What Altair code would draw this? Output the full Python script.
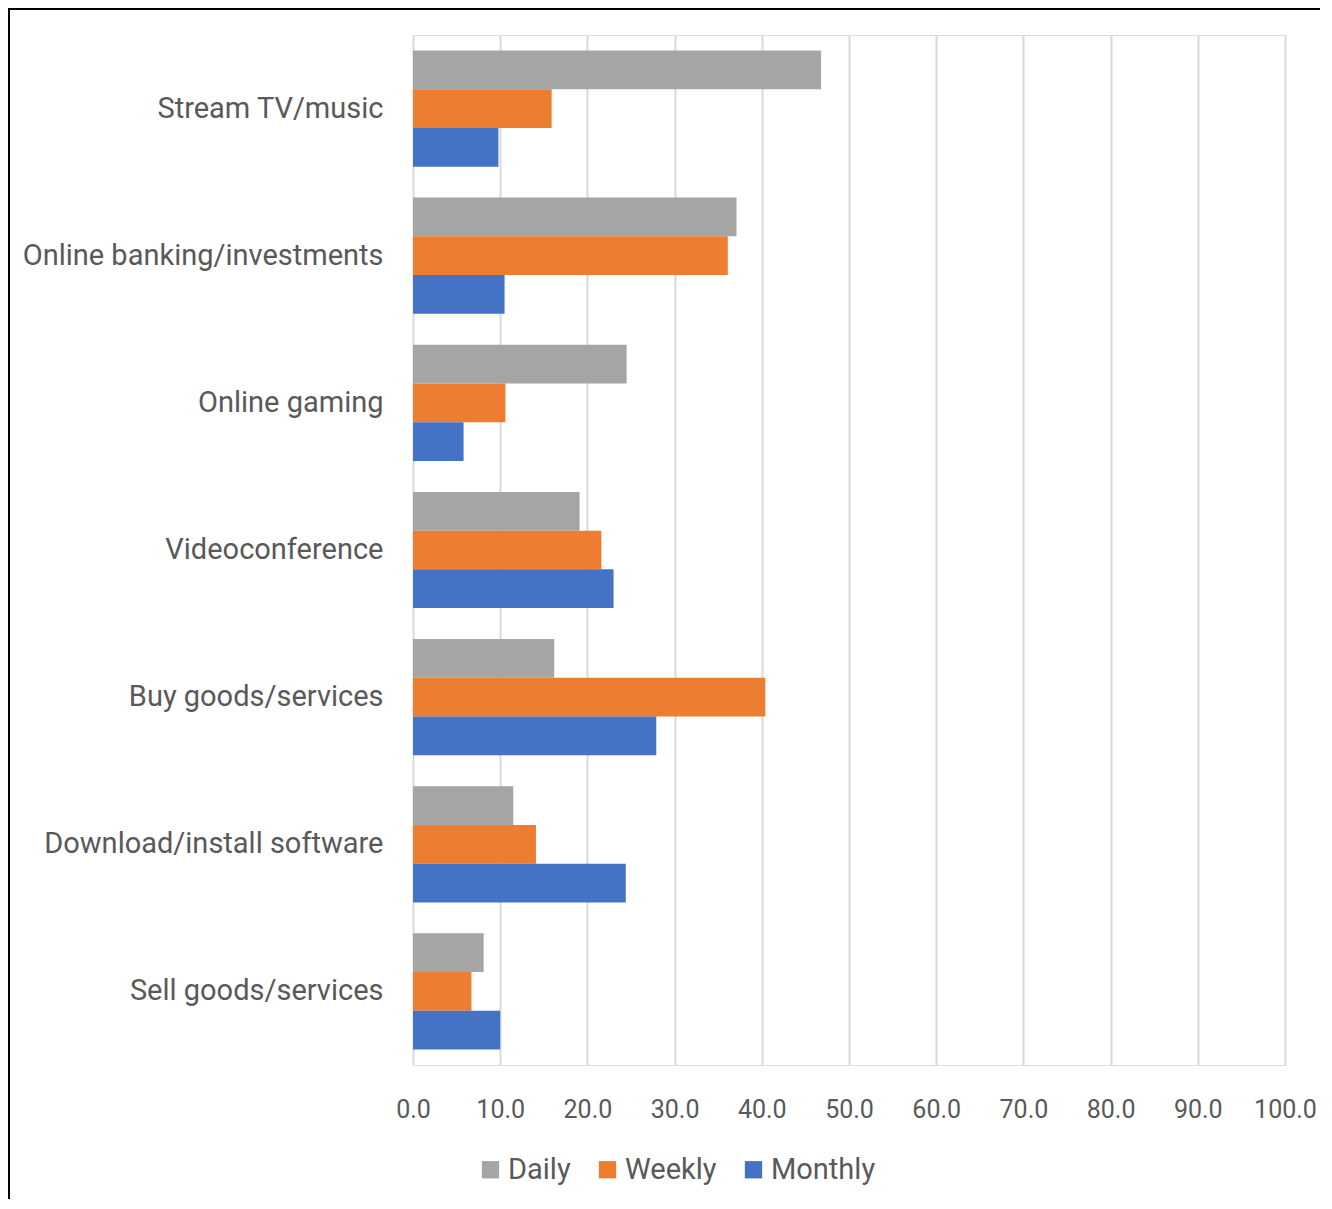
import altair as alt
import pandas as pd

categories = [
    "Stream TV/music",
    "Online banking/investments",
    "Online gaming",
    "Videoconference",
    "Buy goods/services",
    "Download/install software",
    "Sell goods/services",
]
daily = [46.8, 37.1, 24.5, 19.1, 16.2, 11.5, 8.1]
weekly = [15.9, 36.1, 10.6, 21.6, 40.4, 14.1, 6.7]
monthly = [9.8, 10.5, 5.8, 23.0, 27.9, 24.4, 10.0]
series = ["Daily", "Weekly", "Monthly"]
colors = ["#A5A5A5", "#ED7D31", "#4472C4"]
x_ticks = [0, 10, 20, 30, 40, 50, 60, 70, 80, 90, 100]

rows = []
for s, vals in zip(series, [daily, weekly, monthly]):
    for c, v in zip(categories, vals):
        rows.append({"category": c, "series": s, "value": v})
df = pd.DataFrame(rows)

FONT = "Roboto"
TEXT = "#595959"

bars = alt.Chart(df).mark_bar().encode(
    x=alt.X(
        "value:Q",
        scale=alt.Scale(domain=[0, 100], nice=False, zero=True),
        axis=alt.Axis(
            values=x_ticks,
            format=".1f",
            title=None,
            grid=True,
            gridColor="#D9D9D9",
            gridWidth=2,
            domain=False,
            ticks=False,
            labelFlush=False,
            labelOverlap=False,
            labelFontSize=25,
            labelColor=TEXT,
            labelPadding=32,
            labelFont=FONT,
        ),
    ),
    y=alt.Y(
        "category:N",
        sort=categories,
        scale=alt.Scale(paddingInner=0.21, paddingOuter=0.105),
        axis=alt.Axis(
            title=None,
            domain=False,
            ticks=False,
            grid=False,
            labelFontSize=29,
            labelColor=TEXT,
            labelPadding=30,
            labelLimit=600,
            labelFont=FONT,
        ),
    ),
    yOffset=alt.YOffset(
        "series:N",
        sort=series,
        scale=alt.Scale(paddingInner=0, paddingOuter=0),
    ),
    color=alt.Color(
        "series:N",
        sort=series,
        scale=alt.Scale(domain=series, range=colors),
        legend=alt.Legend(
            title=None,
            orient="none",
            direction="horizontal",
            legendX=63,
            legendY=1120,
            symbolType="square",
            symbolSize=300,
            symbolStrokeWidth=0,
            labelFontSize=29,
            labelColor=TEXT,
            labelFont=FONT,
            labelOffset=3,
            columnPadding=22,
            padding=0,
        ),
    ),
)

frame = pd.DataFrame({"a": [0]})
left_border = alt.Chart(frame).mark_rule(color="black", strokeWidth=2).encode(
    x=alt.value(-404), y=alt.value(-26), y2=alt.value(1200)
)
top_border = alt.Chart(frame).mark_rule(color="black", strokeWidth=2).encode(
    x=alt.value(-405), x2=alt.value(1000), y=alt.value(-26)
)

chart = (
    alt.layer(bars, left_border, top_border)
    .properties(
        width=872,
        height=1030,
        autosize=alt.AutoSizeParams(type="none"),
        padding={"left": 405, "top": 27, "right": 35, "bottom": 134},
    )
    .configure_view(strokeWidth=0, stroke="transparent")
    .configure(font=FONT)
)

chart.save("out.html", embed_options={"renderer": "svg", "actions": False})
